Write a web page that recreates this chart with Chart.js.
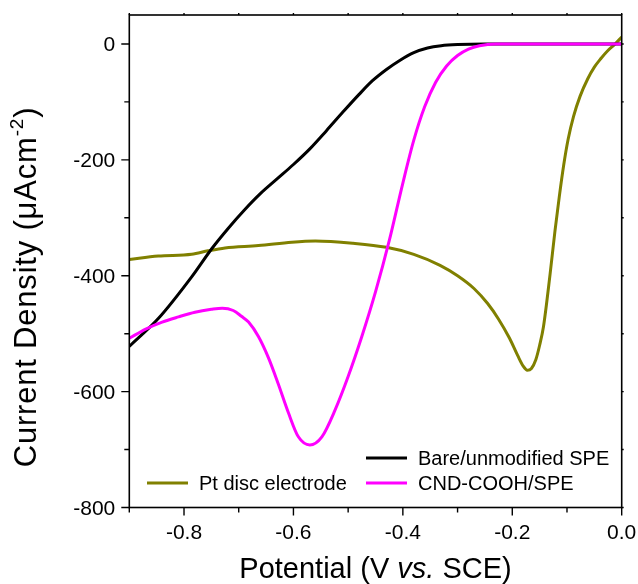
<!DOCTYPE html>
<html>
<head>
<meta charset="utf-8">
<script src="https://cdn.jsdelivr.net/npm/chart.js@4/dist/chart.umd.min.js"></script>
<style>
  html, body { margin: 0; padding: 0; background: #fff; }
  #wrap { width: 638px; height: 584px; }
</style>
</head>
<body>
<div id="wrap"><canvas id="lsv" width="638" height="584"></canvas></div>
<script>
// ---- data: potential (V vs SCE) and current density (uA cm^-2) ----
const bareV = [-0.900,-0.847,-0.786,-0.749,-0.719,-0.690,-0.660,-0.630,-0.600,-0.570,-0.540,-0.510,-0.480,-0.455,-0.430,-0.405,-0.380,-0.355,-0.330,-0.300,-0.250,0.000];
const bareJ = [-522,-474,-402,-353,-318,-287,-258,-233,-208,-181,-150,-118,-87,-63,-44,-28,-15,-7,-3,-1,0,0];

const cndV = [-0.900,-0.870,-0.840,-0.810,-0.780,-0.750,-0.730,-0.710,-0.695,-0.682,-0.664,-0.646,-0.628,-0.609,-0.591,-0.570,-0.548,-0.524,-0.500,-0.475,-0.450,-0.425,-0.400,-0.380,-0.360,-0.340,-0.320,-0.300,-0.280,-0.260,-0.230,0.000];
const cndJ = [-508,-492,-480,-471,-463,-458,-456,-460,-470,-480,-505,-541,-586,-637,-678,-692,-678,-632,-574,-505,-428,-340,-240,-166,-108,-66,-38,-20,-9,-3,0,0];

const ptV = [-0.900,-0.847,-0.786,-0.756,-0.725,-0.664,-0.603,-0.560,-0.491,-0.430,-0.380,-0.332,-0.300,-0.270,-0.245,-0.225,-0.205,-0.190,-0.180,-0.1725,-0.165,-0.157,-0.150,-0.143,-0.131,-0.122,-0.114,-0.106,-0.098,-0.088,-0.076,-0.062,-0.050,-0.038,-0.026,-0.012,0.000];
const ptJ = [-372,-366,-363,-357,-352,-348,-342,-340,-344,-351,-363,-382,-400,-422,-448,-475,-508,-538,-556,-563,-560,-545,-520,-488,-398,-323,-263,-209,-165,-125,-90,-60,-40,-25,-12,0,12];

// ---- axes ----
const xMajor = [-0.8,-0.6,-0.4,-0.2,0.0];
const xMinor = [-0.9,-0.7,-0.5,-0.3,-0.1];
const yMajor = [0,-200,-400,-600,-800];
const yMinor = [-100,-300,-500,-700];
const xRange = [-0.9, 0.0];
const yRange = [-800, 50];

const FONT = '"Liberation Sans", Arial, sans-serif';

function pts(xs, ys) {
    return xs.map((x, i) => ({ x: x, y: ys[i] }));
}

// frame, ticks, tick labels, axis titles and the legend
const axesPlugin = {
    id: "axesPlugin",
    afterDraw(chart) {
        const ctx = chart.ctx;
        const a = chart.chartArea;
        const sx = chart.scales.x, sy = chart.scales.y;
        ctx.save();
        ctx.strokeStyle = "#000";
        ctx.lineWidth = 1.6;
        ctx.strokeRect(a.left, a.top, a.right - a.left, a.bottom - a.top);

        ctx.lineWidth = 1.4;
        ctx.beginPath();
        const tick = (vals, len) => {
            vals.forEach(v => {
                const px = sx.getPixelForValue(v);
                ctx.moveTo(px, a.bottom); ctx.lineTo(px, a.bottom + len);
                ctx.moveTo(px, a.top); ctx.lineTo(px, a.top - 2);
            });
        };
        const tickY = (vals, len) => {
            vals.forEach(v => {
                const py = sy.getPixelForValue(v);
                ctx.moveTo(a.left, py); ctx.lineTo(a.left - len, py);
                ctx.moveTo(a.right, py); ctx.lineTo(a.right + 2, py);
            });
        };
        tick(xMajor, 8); tick(xMinor, 5);
        tickY(yMajor, 8); tickY(yMinor, 5);
        ctx.stroke();

        // tick labels
        ctx.fillStyle = "#000";
        ctx.font = "21px " + FONT;
        ctx.textAlign = "center";
        ctx.textBaseline = "alphabetic";
        xMajor.forEach(v => {
            ctx.fillText(v.toFixed(1), sx.getPixelForValue(v), a.bottom + 31);
        });
        ctx.textAlign = "right";
        yMajor.forEach(v => {
            ctx.fillText(String(v), a.left - 14, sy.getPixelForValue(v) + 7.5);
        });

        // x title, "vs." in italics
        const parts = [["Potential (V ", ""], ["vs.", "italic "], [" SCE)", ""]];
        ctx.textAlign = "left";
        let w = 0;
        parts.forEach(p => { ctx.font = p[1] + "29px " + FONT; w += ctx.measureText(p[0]).width; });
        let x = (a.left + a.right) / 2 - w / 2;
        parts.forEach(p => {
            ctx.font = p[1] + "29px " + FONT;
            ctx.fillText(p[0], x, 578);
            x += ctx.measureText(p[0]).width;
        });

        // y title with superscript
        ctx.save();
        ctx.translate(36, 287);
        ctx.rotate(-Math.PI / 2);
        ctx.letterSpacing = "0.8px";
        const yParts = [["Current Density (\u03bcAcm", 31, 0], ["-2", 19, -13], [")", 31, 0]];
        w = 0;
        yParts.forEach(p => { ctx.font = p[1] + "px " + FONT; w += ctx.measureText(p[0]).width; });
        x = -w / 2;
        yParts.forEach(p => {
            ctx.font = p[1] + "px " + FONT;
            ctx.fillText(p[0], x, p[2]);
            x += ctx.measureText(p[0]).width;
        });
        ctx.restore();

        // legend
        const ds = chart.data.datasets;
        const entries = [
            { d: ds[1], x: 366, y: 458 },
            { d: ds[0], x: 366, y: 483 },
            { d: ds[2], x: 147, y: 483 }
        ];
        ctx.font = "20px " + FONT;
        ctx.textBaseline = "middle";
        ctx.lineWidth = 3;
        entries.forEach(e => {
            ctx.strokeStyle = e.d.borderColor;
            ctx.beginPath();
            ctx.moveTo(e.x, e.y); ctx.lineTo(e.x + 41, e.y);
            ctx.stroke();
            ctx.fillText(e.d.label, e.x + 52, e.y + 1);
        });
        ctx.restore();
    }
};

const common = {
    borderWidth: 3,
    pointRadius: 0,
    fill: false,
    cubicInterpolationMode: "monotone"
};

new Chart(document.getElementById("lsv"), {
    type: "line",
    data: {
        datasets: [
            { ...common, label: "CND-COOH/SPE", data: pts(cndV, cndJ), borderColor: "#ff00ff" },
            { ...common, label: "Bare/unmodified SPE", data: pts(bareV, bareJ), borderColor: "#000000" },
            { ...common, label: "Pt disc electrode", data: pts(ptV, ptJ), borderColor: "#808000" }
        ]
    },
    options: {
        responsive: false,
        animation: false,
        layout: { padding: { left: 129.3, top: 15, right: 16.3, bottom: 76.5 } },
        plugins: { legend: { display: false }, tooltip: { enabled: false } },
        scales: {
            x: { type: "linear", min: xRange[0], max: xRange[1], display: false },
            y: { type: "linear", min: yRange[0], max: yRange[1], display: false }
        }
    },
    plugins: [axesPlugin]
});
</script>
</body>
</html>
